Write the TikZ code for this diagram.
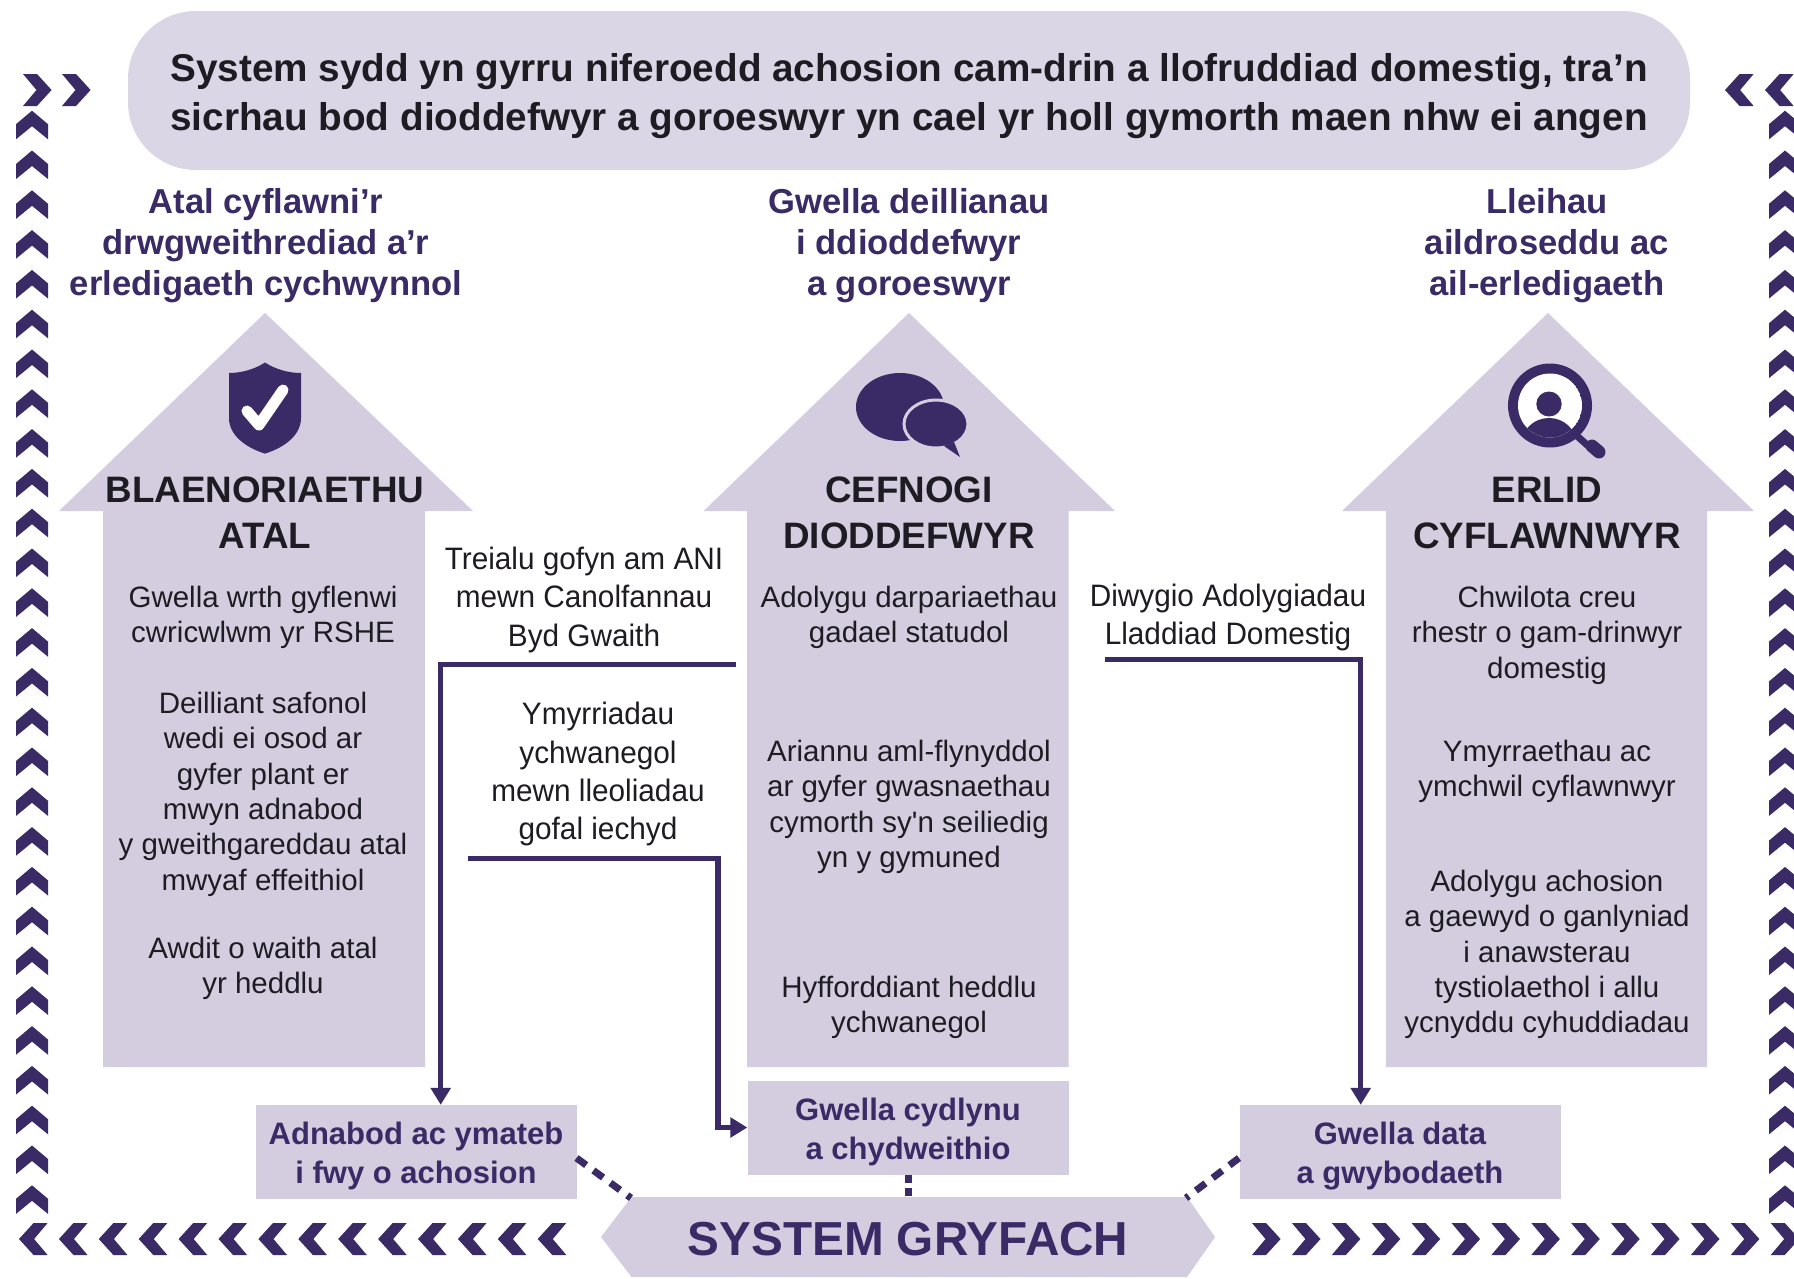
\documentclass[tikz,border=0pt]{standalone}
\usepackage{fontspec}
\setmainfont{Liberation Sans}
\newfontfamily\narrowf[FakeStretch=0.96]{Liberation Sans}
\newfontfamily\rawf{Liberation Sans}
\usetikzlibrary{arrows.meta}
\definecolor{lilac}{HTML}{D4CDDF}
\definecolor{pale}{HTML}{DBD6E6}
\definecolor{deep}{HTML}{3A2B66}
\definecolor{ink}{HTML}{1E1C22}
\newcommand\firstline{\rule{0pt}{1em}}
\newcommand\chevU[2]{\fill[deep,shift={(#1,#2)}] (0,0)--(16,13.5)--(16,28.6)--(0,15.5)--(-16,28.6)--(-16,13.5)--cycle;}
\newcommand\chevR[2]{\fill[deep,shift={(#1,#2)}] (0,0)--(14,0)--(28.6,16)--(14,32)--(0,32)--(13.5,16)--cycle;}
\newcommand\chevL[2]{\fill[deep,shift={(#1,#2)}] (0,16)--(14.6,0)--(28.6,0)--(15.1,16)--(28.6,32)--(14.6,32)--cycle;}
\tikzset{
  x=1pt,y=-1pt,
  bigarrow/.style={fill=lilac},
  topic/.style={anchor=north,inner sep=0pt,align=center,text=deep,font=\fontsize{34.6}{41}\selectfont\bfseries},
  pillar/.style={anchor=north,inner sep=0pt,align=center,text=ink,font=\fontsize{36.8}{46}\selectfont\bfseries},
  body/.style={anchor=north,inner sep=0pt,align=center,text=ink,font=\fontsize{29.5}{35.4}\selectfont},
  side/.style={anchor=north,inner sep=0pt,align=center,text=ink,font=\fontsize{31}{38.4}\narrowf\selectfont},
  outcome/.style={fill=lilac,inner sep=0pt,minimum width=321pt,minimum height=94pt,align=center,text=deep,font=\fontsize{31}{39}\selectfont\bfseries},
  flow/.style={draw=deep,line width=5.2pt,-{Triangle[length=17pt,width=19.5pt]}},
  link/.style={draw=deep,line width=7pt}
}
\begin{document}
\begin{tikzpicture}
\useasboundingbox (0,0) rectangle (1794,1278);
\clip (0,0) rectangle (1794,1278);
\fill[white] (0,0) rectangle (1794,1278);

% chevron frame
\foreach \i in {0,...,27}{\chevU{32}{110.7+39.8*\i}\chevU{1785}{110.7+39.8*\i}}
\chevR{23}{74}\chevR{62}{74}
\chevL{1725}{74}\chevL{1765}{74}
\foreach \i in {0,...,13}{\chevL{19+39.9*\i}{1223}\chevR{1252+39.9*\i}{1223}}

% headline
\node[fill=pale,rounded corners=68pt,minimum width=1562pt,minimum height=159pt,inner sep=0pt,align=center,text=ink,
  font=\fontsize{38.7}{48.6}\selectfont\bfseries] (headline) at (909,90.5)
  {\firstline System sydd yn gyrru niferoedd achosion cam-drin a llofruddiad domestig, tra’n\\
   sicrhau bod dioddefwyr a goroeswyr yn cael yr holl gymorth maen nhw ei angen};

% topics
\node[topic] (t1) at (266,213.6-34.6) {\firstline Atal cyflawni’r\\drwgweithrediad a’r\\erledigaeth cychwynnol};
\node[topic] (t2) at (909,213.6-34.6) {\firstline Gwella deillianau\\i ddioddefwyr\\a goroeswyr};
\node[topic] (t3) at (1547,213.6-34.6) {\firstline Lleihau\\aildroseddu ac\\ail-erledigaeth};

% big arrows
\fill[bigarrow] (265,313)--(473,511)--(425,511)--(425,1067)--(103,1067)--(103,511)--(59,511)--cycle;
\fill[bigarrow] (909,313)--(1115,511)--(1068.5,511)--(1068.5,1067)--(747,1067)--(747,511)--(703.6,511)--cycle;
\fill[bigarrow] (1548,313)--(1754,511)--(1707,511)--(1707,1067)--(1386,1067)--(1386,511)--(1342,511)--cycle;

% shield icon
\fill[deep] (265,362.5) .. controls (275,369) and (288,373) .. (301,373)
  -- (301,418) .. controls (301,436) and (283,448) .. (265,453.6)
  .. controls (247,448) and (229,436) .. (229,418) -- (229,373)
  .. controls (242,373) and (255,369) .. (265,362.5) -- cycle;
\draw[white,line width=11pt,line cap=round,line join=round] (247,411)--(259,425)--(283,390);

% speech icon
\fill[deep] (900,407) ellipse [x radius=44,y radius=34];
\fill[deep,draw=lilac,line width=3pt] (936,424) ellipse [x radius=32,y radius=24];
\fill[deep] (944,446)--(960,457)--(954,442)--cycle;

% search icon
\fill[deep] (1579,433)--(1597,449)--(1592,454)--(1574,438)--cycle;
\draw[deep,line width=13pt,line cap=round] (1592,446)--(1599,452);
\fill[deep] (1550,405.5) circle [radius=42];
\begin{scope}
  \clip (1550,405.5) circle [radius=32];
  \fill[white] (1550,405.5) circle [radius=32];
  \fill[deep] (1549,404) ellipse [x radius=12.7,y radius=12.5];
  \fill[deep] (1549,443) ellipse [x radius=27,y radius=25];
\end{scope}

% pillar titles
\node[pillar] (p1) at (265,502-36.8) {\firstline BLAENORIAETHU\\ATAL};
\node[pillar] (p2) at (909,502-36.8) {\firstline CEFNOGI\\DIODDEFWYR};
\node[pillar] (p3) at (1547,502-36.8) {\firstline ERLID\\CYFLAWNWYR};

% pillar text
\node[body] (a1) at (263,607-29.5) {\firstline Gwella wrth gyflenwi\\cwricwlwm yr RSHE};
\node[body] (a2) at (263,713-29.5) {\firstline Deilliant safonol\\wedi ei osod ar\\gyfer plant er\\mwyn adnabod\\y gweithgareddau atal\\mwyaf effeithiol};
\node[body] (a3) at (263,958-29.5) {\firstline Awdit o waith atal\\yr heddlu};
\node[body] (b1) at (909,607-29.5) {\firstline Adolygu darpariaethau\\gadael statudol};
\node[body] (b2) at (909,761-29.5) {\firstline Ariannu aml-flynyddol\\ar gyfer gwasnaethau\\cymorth sy{\rawf'}n seiliedig\\yn y gymuned};
\node[body] (b3) at (909,997-29.5) {\firstline Hyfforddiant heddlu\\ychwanegol};
\node[body] (c1) at (1547,607-29.5) {\firstline Chwilota creu\\rhestr o gam-drinwyr\\domestig};
\node[body] (c2) at (1547,761-29.5) {\firstline Ymyrraethau ac\\ymchwil cyflawnwyr};
\node[body] (c3) at (1547,891-29.5) {\firstline Adolygu achosion\\a gaewyd o ganlyniad\\i anawsterau\\tystiolaethol i allu\\ycnyddu cyhuddiadau};

% side text
\node[side] (s1) at (584,569.3-31) {\firstline Treialu gofyn am ANI\\mewn Canolfannau\\Byd Gwaith};
\node[side] (s2) at (598,724.5-31) {\firstline Ymyrriadau\\ychwanegol\\mewn lleoliadau\\gofal iechyd};
\node[side] (s3) at (1228,606-31) {\firstline Diwygio Adolygiadau\\Lladdiad Domestig};

% outcome boxes
\node[outcome] (oL) at (416,1152) {\firstline Adnabod ac ymateb\\i fwy o achosion};
\node[outcome] (oC) at (908,1127.5) {\firstline Gwella cydlynu\\a chydweithio};
\node[outcome] (oR) at (1400,1152) {\firstline Gwella data\\a gwybodaeth};

% system banner
\fill[lilac] (601,1237)--(631.5,1197)--(1187,1197)--(1215,1237)--(1187,1277)--(631.5,1277)--cycle;
\node[anchor=base,inner sep=0pt,text=deep,font=\fontsize{47.7}{50}\selectfont\bfseries] (sys) at (908,1255) {SYSTEM GRYFACH};
\coordinate (hexL) at (631,1198);
\coordinate (hexR) at (1186,1198);
\coordinate (linkL) at (576.5,1158);
\coordinate (linkR) at (1239,1158);

% dashed links
\draw[link,dash pattern=on 12pt off 9pt] (linkL)--(hexL);
\draw[link,dash pattern=on 12pt off 9pt] (linkR)--(hexR);
\draw[link,dash pattern=on 8pt off 5pt] (oC.south)--(oC.south |- hexL);

% flow connectors
\coordinate (f1s) at (736,664.3);
\coordinate (f1v) at (440.7,0);
\coordinate (f2s) at (468,858.7);
\coordinate (f2v) at (718,0);
\coordinate (f3s) at (1105,659.3);
\coordinate (f3v) at (1360.7,0);
\draw[flow] (f1s) -| (f1v |- oL.north);
\draw[flow] (f2s) -| (f2v |- oC.west) -- (oC.west);
\draw[flow] (f3s) -| (f3v |- oR.north);
\end{tikzpicture}
\end{document}
